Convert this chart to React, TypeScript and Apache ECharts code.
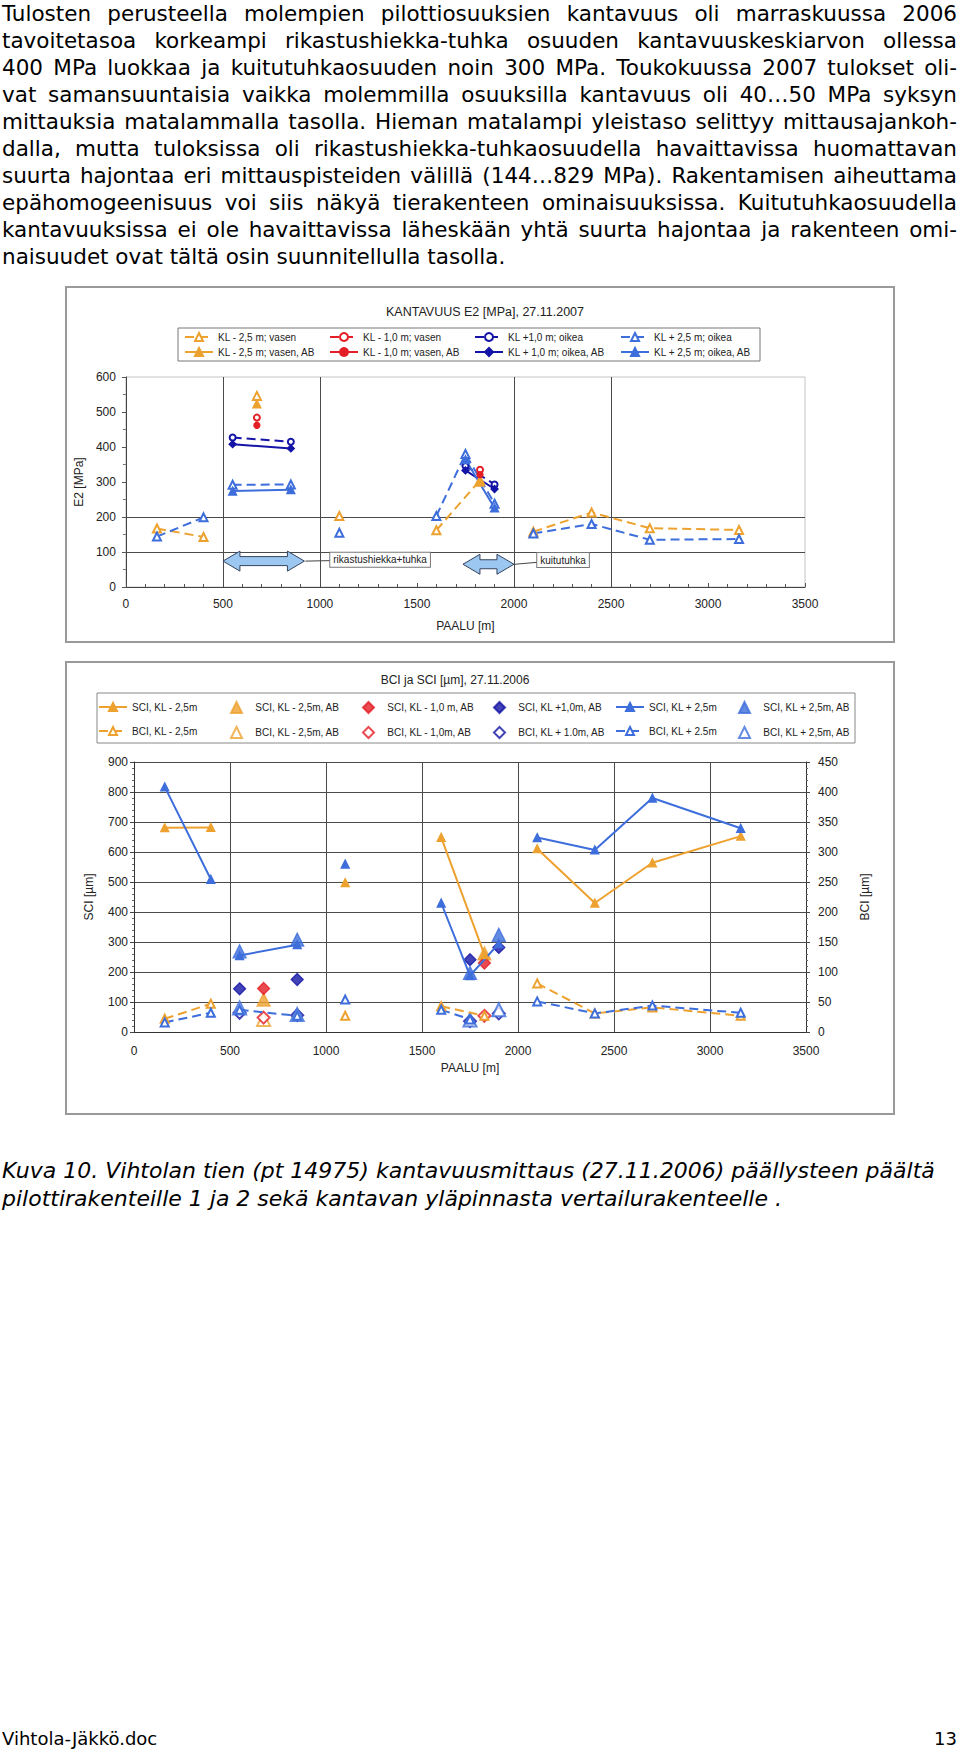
import React, { useEffect, useRef } from "react";
import * as echarts from "echarts";

// ---------------- Page text ----------------
const PARAGRAPH_LINES = [
  "Tulosten perusteella molempien pilottiosuuksien kantavuus oli marraskuussa 2006",
  "tavoitetasoa korkeampi rikastushiekka-tuhka osuuden kantavuuskeskiarvon ollessa",
  "400 MPa luokkaa ja kuitutuhkaosuuden noin 300 MPa. Toukokuussa 2007 tulokset oli-",
  "vat samansuuntaisia vaikka molemmilla osuuksilla kantavuus oli 40…50 MPa syksyn",
  "mittauksia matalammalla tasolla. Hieman matalampi yleistaso selittyy mittausajankoh-",
  "dalla, mutta tuloksissa oli rikastushiekka-tuhkaosuudella havaittavissa huomattavan",
  "suurta hajontaa eri mittauspisteiden välillä (144…829 MPa).  Rakentamisen aiheuttama",
  "epähomogeenisuus voi siis näkyä  tierakenteen ominaisuuksissa. Kuitutuhkaosuudella",
  "kantavuuksissa ei ole havaittavissa läheskään yhtä suurta hajontaa ja rakenteen omi-",
];
const PARAGRAPH_LAST = "naisuudet ovat tältä osin suunnitellulla tasolla.";
const CAPTION_LINES = [
  "Kuva 10. Vihtolan tien (pt 14975) kantavuusmittaus (27.11.2006) päällysteen päältä",
  "pilottirakenteille 1 ja 2 sekä kantavan yläpinnasta vertailurakenteelle .",
];
const FOOTER_LEFT = "Vihtola-Jäkkö.doc";
const FOOTER_RIGHT = "13";

// ---------------- Chart 1: E2 ----------------
const E2_TITLE = "KANTAVUUS E2 [MPa], 27.11.2007";
const E2_X_NAME = "PAALU [m]";
const E2_Y_NAME = "E2 [MPa]";
const E2_GRID_X = [500, 1000, 2000, 2500];
const E2_GRID_Y = [100, 200];

const E2_KL_M25_VASEN = [[160, 167], [400, 143], null, [675, 546], null, [1100, 203], null, [1600, 162], [1825, 305], null, [2100, 158], [2400, 213], [2700, 168], [3160, 163]];
const E2_KL_M10_VASEN = [[675, 484], null, [1825, 335]];
const E2_KL_P10_OIKEA = [[550, 427], [850, 415], null, [1750, 346], [1900, 293]];
const E2_KL_P25_OIKEA = [[160, 144], [400, 199], null, [550, 292], [850, 293], null, [1100, 155], null, [1600, 203], [1750, 380], [1900, 238], null, [2100, 153], [2400, 180], [2700, 135], [3160, 137]];
const E2_KL_M25_VASEN_AB = [[675, 523], null, [1825, 300]];
const E2_KL_M10_VASEN_AB = [[675, 462], null, [1825, 321]];
const E2_KL_P10_OIKEA_AB = [[550, 408], [850, 396], null, [1750, 333], [1900, 280]];
const E2_KL_P25_OIKEA_AB = [[550, 274], [850, 278], null, [1750, 364], [1900, 226]];

const E2_SECTIONS = [
  { label: "rikastushiekka+tuhka", from: 500, to: 920, y: 74, labelX: 1310, labelY: 78 },
  { label: "kuitutuhka", from: 1737, to: 2000, y: 65, labelX: 2253, labelY: 77 },
];

// ---------------- Chart 2: BCI / SCI ----------------
const BS_TITLE = "BCI ja SCI [µm], 27.11.2006";
const BS_X_NAME = "PAALU [m]";
const BS_Y_LEFT = "SCI [µm]";
const BS_Y_RIGHT = "BCI [µm]";

const SCI_KL_M25 = [[160, 681], [400, 682], null, [1100, 498], null, [1600, 649], [1825, 258], null, [2100, 611], [2400, 430], [2700, 564], [3160, 653]];
const SCI_KL_M25_AB = [[675, 108], [1825, 262]];
const SCI_KL_M10_AB = [[675, 145], [1825, 230]];
const SCI_KL_P10_AB = [[550, 144], [850, 175], [1750, 241], [1900, 282]];
const SCI_KL_P25 = [[160, 817], [400, 509], null, [550, 255], [850, 291], null, [1100, 560], null, [1600, 430], [1750, 188], [1900, 295], null, [2100, 648], [2400, 607], [2700, 780], [3160, 679]];
const SCI_KL_P25_AB = [[550, 269], [850, 308], [1750, 197], [1900, 324]];
const BCI_KL_M25 = [[160, 22], [400, 47], null, [1100, 27], null, [1600, 43], [1825, 27], null, [2100, 81], [2400, 31], [2700, 41], [3160, 27]];
const BCI_KL_M25_AB = [[675, 21]];
const BCI_KL_M10_AB = [[675, 24], [1825, 27]];
const BCI_KL_P10_AB = [[550, 32], [850, 28], [1750, 18], [1900, 31]];
const BCI_KL_P25 = [[160, 16], [400, 32], null, [550, 37], [850, 27], null, [1100, 54], null, [1600, 37], [1750, 21], null, [2100, 51], [2400, 31], [2700, 44], [3160, 32]];
const BCI_KL_P25_AB = [[550, 40], [850, 29], [1750, 20], [1900, 37]];

// ---------------- Styles ----------------
const CF = '"Liberation Sans", Arial, sans-serif';
const ORANGE = "#EDA12F";
const RED = "#E41E26";
const NAVY = "#1414A6";
const BLUE = "#3D6EDB";
const DASH = [9, 5];

const toData = (pts: any[]) => pts.map((p) => (p ? p : ["-", "-"]));
const plain = (v: number) => String(v);

function lineSeries(name: string, pts: any[], color: string, dashed: boolean, symbol: string, size: number, extra: any = {}) {
  return {
    type: "line",
    name,
    data: toData(pts),
    color,
    symbol,
    symbolSize: size,
    showSymbol: true,
    connectNulls: false,
    lineStyle: { color, width: 2, type: dashed ? DASH : "solid" },
    itemStyle: { color, borderColor: color, borderWidth: 1.3 },
    emphasis: { disabled: true },
    silent: true,
    ...extra,
  };
}

function scatterSeries(name: string, pts: any[], color: string, symbol: string, size: number, extra: any = {}) {
  return {
    type: "scatter",
    name,
    data: pts,
    color,
    symbol,
    symbolSize: size,
    itemStyle: { color, borderColor: color, borderWidth: 1.3 },
    emphasis: { disabled: true },
    silent: true,
    ...extra,
  };
}

function columnLegend(names: string[], left: number, top: number, gap: number) {
  return {
    orient: "vertical",
    left,
    top,
    itemWidth: 28,
    itemHeight: 10,
    itemGap: gap,
    selectedMode: false,
    padding: 0,
    textStyle: { fontFamily: CF, fontSize: 10, color: "#222", lineHeight: 12 },
    data: names,
  };
}

function markerLegend(names: string[], left: number, top: number, gap: number) {
  return {
    orient: "vertical",
    left,
    top,
    itemWidth: 11,
    itemHeight: 11,
    itemGap: gap,
    selectedMode: false,
    padding: 0,
    formatter: (n: string) => "   " + n,
    textStyle: { fontFamily: CF, fontSize: 10, color: "#222", lineHeight: 12 },
    data: names,
  };
}

function e2Option(): any {
  const axisText = { fontFamily: CF, fontSize: 12, color: "#222" };
  const series: any[] = [
    lineSeries("KL - 2,5 m; vasen", E2_KL_M25_VASEN, ORANGE, true, "emptyTriangle", 8, {
      markLine: {
        silent: true,
        symbol: ["none", "none"],
        label: { show: false },
        lineStyle: { color: "#4a4a4a", width: 1, type: "solid" },
        data: [...E2_GRID_X.map((v) => ({ xAxis: v })), ...E2_GRID_Y.map((v) => ({ yAxis: v }))],
        z: 1,
      },
    }),
    lineSeries("KL - 1,0 m; vasen", E2_KL_M10_VASEN, RED, true, "emptyCircle", 6),
    lineSeries("KL +1,0 m; oikea", E2_KL_P10_OIKEA, NAVY, true, "emptyCircle", 6),
    lineSeries("KL + 2,5 m; oikea", E2_KL_P25_OIKEA, BLUE, true, "emptyTriangle", 8),
    lineSeries("KL - 2,5 m; vasen, AB", E2_KL_M25_VASEN_AB, ORANGE, false, "triangle", 8),
    lineSeries("KL - 1,0 m; vasen, AB", E2_KL_M10_VASEN_AB, RED, false, "circle", 6),
    lineSeries("KL + 1,0 m; oikea, AB", E2_KL_P10_OIKEA_AB, NAVY, false, "diamond", 7),
    lineSeries("KL + 2,5 m; oikea, AB", E2_KL_P25_OIKEA_AB, BLUE, false, "triangle", 8),
    {
      type: "custom",
      name: "sections",
      silent: true,
      clip: false,
      z: 6,
      encode: { x: [0, 1, 3], y: [2, 4] },
      data: E2_SECTIONS.map((s) => [s.from, s.to, s.y, s.labelX, s.labelY]),
      renderItem: (params: any, api: any) => {
        const a = api.coord([api.value(0), api.value(2)]);
        const b = api.coord([api.value(1), api.value(2)]);
        const l = api.coord([api.value(3), api.value(4)]);
        const yc = a[1];
        const x1 = a[0];
        const x2 = b[0];
        const hl = 17;
        const H = 10;
        const s = 4.5;
        const pts = [
          [x1, yc], [x1 + hl, yc - H], [x1 + hl, yc - s], [x2 - hl, yc - s], [x2 - hl, yc - H],
          [x2, yc], [x2 - hl, yc + H], [x2 - hl, yc + s], [x1 + hl, yc + s], [x1 + hl, yc + H],
        ];
        const label = E2_SECTIONS[params.dataIndex].label;
        return {
          type: "group",
          children: [
            { type: "line", shape: { x1: x2 + 1, y1: yc, x2: l[0], y2: l[1] }, style: { stroke: "#444", lineWidth: 1 } },
            { type: "polygon", shape: { points: pts }, style: { fill: "#9CC7F0", stroke: "#34435e", lineWidth: 1 } },
            {
              type: "text",
              x: l[0],
              y: l[1],
              style: {
                text: label,
                fontFamily: CF,
                fontSize: 10,
                fill: "#222",
                align: "center",
                verticalAlign: "middle",
                textAlign: "center",
                textVerticalAlign: "middle",
                backgroundColor: "#fff",
                borderColor: "#777",
                borderWidth: 1,
                padding: [2, 3, 2, 3],
              },
            },
          ],
        };
      },
    },
  ];
  return {
    animation: false,
    backgroundColor: "#fff",
    title: {
      text: E2_TITLE,
      left: 415,
      top: 14,
      textAlign: "center",
      textStyle: { fontFamily: CF, fontSize: 12.5, fontWeight: "normal", color: "#222" },
    },
    graphic: [
      { type: "rect", z: 0, shape: { x: 113, y: 42, width: 582, height: 33 }, style: { fill: "#fff", stroke: "#777", lineWidth: 1 } },
    ],
    legend: [
      columnLegend(["KL - 2,5 m; vasen", "KL - 2,5 m; vasen, AB"], 119, 45, 3),
      columnLegend(["KL - 1,0 m; vasen", "KL - 1,0 m; vasen, AB"], 264, 45, 3),
      columnLegend(["KL +1,0 m; oikea", "KL + 1,0 m; oikea, AB"], 409, 45, 3),
      columnLegend(["KL + 2,5 m; oikea", "KL + 2,5 m; oikea, AB"], 555, 45, 3),
    ],
    grid: { left: 58, right: 90, top: 91, bottom: 56, show: true, borderColor: "#c4c4c4", borderWidth: 1, backgroundColor: "transparent" },
    xAxis: {
      type: "value",
      min: 0,
      max: 3500,
      interval: 500,
      name: E2_X_NAME,
      nameLocation: "middle",
      nameGap: 33,
      nameTextStyle: axisText,
      axisLine: { show: true, lineStyle: { color: "#444" } },
      axisTick: { show: true, inside: true, length: 4, lineStyle: { color: "#555" } },
      minorTick: { show: true, splitNumber: 5, length: 3, lineStyle: { color: "#555" } },
      axisLabel: { ...axisText, margin: 11, formatter: plain },
      splitLine: { show: false },
    },
    yAxis: {
      type: "value",
      min: 0,
      max: 600,
      interval: 100,
      name: E2_Y_NAME,
      nameLocation: "middle",
      nameGap: 39,
      nameRotate: 90,
      nameTextStyle: axisText,
      axisLine: { show: true, lineStyle: { color: "#444" } },
      axisTick: { show: true, length: 4, lineStyle: { color: "#555" } },
      minorTick: { show: true, splitNumber: 2, length: 3, lineStyle: { color: "#777" } },
      axisLabel: { ...axisText, margin: 10, formatter: plain },
      splitLine: { show: false },
    },
    series,
  };
}

function bsOption(): any {
  const axisText = { fontFamily: CF, fontSize: 12, color: "#222" };
  const grid = { color: "#4a4a4a", width: 1 };
  return {
    animation: false,
    backgroundColor: "#fff",
    title: {
      text: BS_TITLE,
      left: 385,
      top: 8,
      textAlign: "center",
      textStyle: { fontFamily: CF, fontSize: 12, fontWeight: "normal", color: "#222" },
    },
    graphic: [
      { type: "rect", z: 0, shape: { x: 32, y: 32, width: 758, height: 50 }, style: { fill: "#fff", stroke: "#888", lineWidth: 1 } },
    ],
    legend: [
      columnLegend(["SCI, KL - 2,5m", "BCI, KL - 2,5m"], 33, 40, 12),
      markerLegend(["SCI, KL - 2,5m, AB", "BCI, KL - 2,5m, AB"], 165, 40, 12),
      markerLegend(["SCI, KL - 1,0 m, AB", "BCI, KL - 1,0m, AB"], 297, 40, 12),
      markerLegend(["SCI, KL +1,0m, AB", "BCI, KL + 1.0m, AB"], 428, 40, 12),
      columnLegend(["SCI, KL + 2,5m", "BCI, KL + 2.5m"], 550, 40, 12),
      markerLegend(["SCI, KL + 2,5m, AB", "BCI, KL + 2,5m, AB"], 673, 40, 12),
    ],
    grid: { left: 69, right: 89, top: 101, bottom: 83 },
    xAxis: {
      type: "value",
      min: 0,
      max: 3500,
      interval: 500,
      name: BS_X_NAME,
      nameLocation: "middle",
      nameGap: 28,
      nameTextStyle: axisText,
      axisLine: { show: true, lineStyle: { color: "#333" } },
      axisTick: { show: false },
      axisLabel: { ...axisText, margin: 13, formatter: plain },
      splitLine: { show: true, lineStyle: grid },
    },
    yAxis: [
      {
        type: "value",
        min: 0,
        max: 900,
        interval: 100,
        name: BS_Y_LEFT,
        nameLocation: "middle",
        nameGap: 39,
        nameRotate: 90,
        nameTextStyle: axisText,
        axisLine: { show: true, lineStyle: { color: "#333" } },
        axisTick: { show: true, length: 4, lineStyle: { color: "#444" } },
        minorTick: { show: true, splitNumber: 5, length: 2, lineStyle: { color: "#666" } },
        axisLabel: { ...axisText, margin: 6, formatter: plain },
        splitLine: { show: true, lineStyle: grid },
      },
      {
        type: "value",
        min: 0,
        max: 450,
        interval: 50,
        position: "right",
        name: BS_Y_RIGHT,
        nameLocation: "middle",
        nameGap: 53,
        nameRotate: 90,
        nameTextStyle: axisText,
        axisLine: { show: true, lineStyle: { color: "#333" } },
        axisTick: { show: true, length: 4, lineStyle: { color: "#444" } },
        minorTick: { show: true, splitNumber: 5, length: 2, lineStyle: { color: "#666" } },
        axisLabel: { ...axisText, margin: 12, formatter: plain },
        splitLine: { show: false },
      },
    ],
    series: [
      lineSeries("SCI, KL - 2,5m", SCI_KL_M25, ORANGE, false, "triangle", 8),
      scatterSeries("SCI, KL - 2,5m, AB", SCI_KL_M25_AB, ORANGE, "triangle", 13),
      scatterSeries("SCI, KL - 1,0 m, AB", SCI_KL_M10_AB, RED, "diamond", 12),
      scatterSeries("SCI, KL +1,0m, AB", SCI_KL_P10_AB, NAVY, "diamond", 12),
      lineSeries("SCI, KL + 2,5m", SCI_KL_P25, BLUE, false, "triangle", 8),
      scatterSeries("SCI, KL + 2,5m, AB", SCI_KL_P25_AB, BLUE, "triangle", 13),
      lineSeries("BCI, KL - 2,5m", BCI_KL_M25, ORANGE, true, "emptyTriangle", 8, { yAxisIndex: 1 }),
      scatterSeries("BCI, KL - 2,5m, AB", BCI_KL_M25_AB, ORANGE, "emptyTriangle", 13, { yAxisIndex: 1 }),
      scatterSeries("BCI, KL - 1,0m, AB", BCI_KL_M10_AB, RED, "emptyDiamond", 12, { yAxisIndex: 1 }),
      scatterSeries("BCI, KL + 1.0m, AB", BCI_KL_P10_AB, NAVY, "emptyDiamond", 12, { yAxisIndex: 1 }),
      lineSeries("BCI, KL + 2.5m", BCI_KL_P25, BLUE, true, "emptyTriangle", 8, { yAxisIndex: 1 }),
      scatterSeries("BCI, KL + 2,5m, AB", BCI_KL_P25_AB, BLUE, "emptyTriangle", 13, { yAxisIndex: 1 }),
    ],
  };
}

const BODY_FONT = '"DejaVu Sans", Verdana, sans-serif';

export default function App() {
  const e2Ref = useRef<HTMLDivElement>(null);
  const bsRef = useRef<HTMLDivElement>(null);

  useEffect(() => {
    const c1 = echarts.init(e2Ref.current as HTMLDivElement, null, { renderer: "svg" });
    c1.setOption(e2Option());
    const c2 = echarts.init(bsRef.current as HTMLDivElement, null, { renderer: "svg" });
    c2.setOption(bsOption());
    return () => {
      c1.dispose();
      c2.dispose();
    };
  }, []);

  const lineStyleBase: React.CSSProperties = {
    whiteSpace: "nowrap",
    textAlign: "justify",
    textAlignLast: "justify" as any,
    height: 27,
    lineHeight: "27px",
  };

  return (
    <div style={{ position: "absolute", left: 0, top: 0, width: 960, height: 1749, background: "#fff", overflow: "hidden", color: "#000" }}>
      <div style={{ position: "absolute", left: 2, top: 0, width: 955, fontFamily: BODY_FONT, fontSize: 21.5 }}>
        {PARAGRAPH_LINES.map((t, i) => (
          <div key={i} style={lineStyleBase}>{t}</div>
        ))}
        <div style={{ ...lineStyleBase, textAlign: "left", textAlignLast: "left" as any }}>{PARAGRAPH_LAST}</div>
      </div>

      <div style={{ position: "absolute", left: 65, top: 286, width: 830, height: 357 }}>
        <div ref={e2Ref} style={{ width: 830, height: 357 }} />
        <div style={{ position: "absolute", left: 0, top: 0, width: 830, height: 357, boxSizing: "border-box", border: "2px solid #9a9a9a", pointerEvents: "none" }} />
      </div>

      <div style={{ position: "absolute", left: 65, top: 661, width: 830, height: 454 }}>
        <div ref={bsRef} style={{ width: 830, height: 454 }} />
        <div style={{ position: "absolute", left: 0, top: 0, width: 830, height: 454, boxSizing: "border-box", border: "2px solid #9a9a9a", pointerEvents: "none" }} />
      </div>

      <div style={{ position: "absolute", left: 2, top: 1157, width: 956, fontFamily: BODY_FONT, fontSize: 22, fontStyle: "italic", lineHeight: "28px" }}>
        {CAPTION_LINES.map((t, i) => (
          <div key={i} style={{ whiteSpace: "nowrap" }}>{t}</div>
        ))}
      </div>

      <div style={{ position: "absolute", left: 2, top: 1728, width: 955, height: 22, fontFamily: BODY_FONT, fontSize: 18, lineHeight: "22px" }}>
        <span>{FOOTER_LEFT}</span>
        <span style={{ position: "absolute", right: 0, top: 0 }}>{FOOTER_RIGHT}</span>
      </div>
    </div>
  );
}
